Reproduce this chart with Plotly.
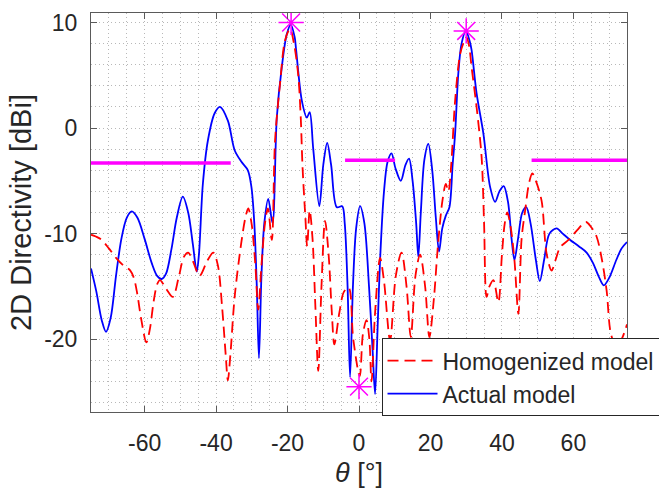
import plotly.graph_objects as go

# Actual model (blue, solid)
actual_theta = [-75, -73.5, -72, -70.8, -69.5, -68, -66.5, -65, -63.6, -62, -60, -58, -56.5, -55.2, -54,
                -52.5, -51, -49.3, -47.8, -46.5, -45.4, -44.8, -43.7, -42.3, -40.4, -38.9, -36.7, -34.8,
                -32.9, -31.1, -30.1, -29.3, -28.6, -28.0, -27.3, -26.5, -25.4, -24.2, -23.0, -21.6, -20.2,
                -19.1, -18.0, -17.6, -16.0, -14.6, -13.8, -12.8, -11.1, -10.0, -8.9, -7.8, -6.2, -4.7,
                -4.0, -3.2, -2.5, -1.7, -0.8, 0.3, 1.5, 2.8, 3.8, 4.5, 5.2, 5.9, 7.0, 8.0, 9.1, 10.2,
                11.7, 13.0, 14.0, 15.0, 16.0, 16.6, 17.3, 18.3, 19.4, 20.5, 21.5, 22.4, 23.3, 24.3, 25.3,
                26.2, 26.9, 27.8, 28.7, 29.9, 31.0, 31.5, 32.9, 34.8, 36.7, 38.1, 39.3, 40.5, 41.7, 42.7,
                43.5, 44.5, 45.7, 46.8, 48.0, 49.5, 50.6, 51.8, 53.3, 55.3, 57.0, 59.1, 61.5, 63.7, 65.5,
                67.0, 68.5, 70.0, 72.0, 73.5, 75.0]
actual_dbi = [-13.3, -15.5, -18.2, -19.3, -18.0, -14.0, -10.5, -8.5, -7.9, -8.5, -10.5, -12.8, -14.0, -14.3,
              -13.8, -11.5, -8.5, -6.5, -8.0, -11.0, -13.6, -12.0, -5.3, -1.2, 1.4, 2.0, 0.7, -2.1, -3.2,
              -4.0, -5.6, -9.0, -15.0, -21.8, -14.0, -9.0, -6.7, -9.0, 1.0, 5.8, 8.9, 9.8, 8.6, 7.4, 2.6,
              1.0, 1.5, -2.0, -7.4, -3.5, -1.4, -3.5, -7.5, -7.4, -9.0, -15.0, -23.6, -15.0, -9.5, -7.4,
              -9.0, -15.0, -21.0, -25.2, -19.0, -12.5, -6.0, -3.2, -2.4, -3.8, -5.0, -3.5, -2.9, -5.0,
              -9.0, -12.2, -8.0, -3.0, -1.5, -4.0, -8.5, -11.7, -9.5, -8.3, -7.5, -3.5, -0.5, 5.2, 8.0,
              9.2, 8.2, 7.4, 3.3, -0.5, -5.6, -7.0, -6.0, -5.5, -7.0, -10.5, -12.5, -10.5, -8.0, -7.5,
              -9.0, -12.5, -14.5, -12.5, -10.0, -9.5, -10.0, -10.6, -11.2, -11.8, -12.8, -14.0, -14.9,
              -14.2, -12.5, -11.4, -10.8]

# Homogenized model (red, dashed)
homog_theta = [-75, -73.5, -72, -70, -68, -66, -64, -63, -62, -61, -59.5, -58.5, -57.5, -56.5, -55.7, -54,
               -52.1, -50.5, -49, -47.8, -46.5, -44.6, -42.5, -40.8, -39.5, -38.3, -37.3, -36.7, -36,
               -34.8, -33, -31.8, -31.0, -30, -29, -28.2, -27.3, -26.3, -25.5, -24.4, -23.5, -22.1, -20.7,
               -19.3, -18.2, -17.0, -16.3, -15.8, -15.0, -14.5, -13.8, -13.0, -12.2, -11.4, -10.5, -9.5,
               -8.5, -7.6, -6.9, -5.5, -4.2, -2.9, -1.6, 0.2, 1.1, 2.1, 2.9, 3.5, 4.5, 5.9, 7.0, 8.7,
               10.3, 11.9, 13.3, 14.5, 15.8, 17.1, 18.5, 19.7, 21.0, 22.0, 23.3, 24.3, 25.0, 25.8, 26.9,
               28.3, 29.4, 30.1, 30.8, 31.5, 32.9, 34.3, 35.0, 35.7, 36.5, 37.6, 39.0, 40.0, 40.8, 41.5,
               42.5, 43.5, 44.6, 45.5, 46.5, 47.6, 48.5, 49.5, 51.1, 52.5, 53.9, 55.0, 56.3, 58.6, 61.0,
               63.5, 65.0, 66.5, 68.0, 69.3, 70.5, 72.0, 73.5, 75.0]
homog_dbi = [-10.1, -10.3, -10.6, -11.4, -12.3, -13.0, -13.5, -14.2, -15.8, -18.0, -20.3, -19.0, -16.5,
             -14.8, -14.4, -15.2, -16.0, -14.2, -12.2, -11.8, -12.6, -14.0, -12.6, -11.8, -13.0, -17.0,
             -21.5, -23.9, -21.5, -16.0, -11.0, -8.5, -7.6, -9.2, -13.0, -17.2, -13.0, -9.0, -7.6, -10.6,
             -1.2, 4.2, 8.3, 9.4, 8.0, 5.0, 1.0, -3.7, -8.5, -11.2, -7.8, -10.5, -17.0, -23.0, -15.0,
             -8.8, -12.0, -17.5, -20.5, -17.5, -15.5, -15.1, -20.0, -23.5, -19.5, -18.2, -20.0, -24.0,
             -17.5, -12.3, -14.5, -20.1, -14.0, -11.8, -15.0, -19.8, -14.0, -12.0, -15.0, -19.8, -16.0,
             -11.5, -7.0, -5.3, -6.0, -3.5, 2.6, 7.0, 8.2, 8.6, 7.8, 5.8, 2.0, -2.7, -9.0, -16.0, -15.0,
             -14.4, -16.5, -12.0, -9.0, -8.0, -9.5, -12.5, -17.6, -10.5, -7.8, -5.2, -4.3, -5.0, -6.9,
             -11.9, -13.5, -12.5, -11.3, -10.6, -9.7, -8.9, -9.4, -10.3, -12.5, -15.4, -19.5, -20.7,
             -20.0, -18.6]

# Markers (peaks / null) and sidelobe level segments
star_theta = [-19.0, 30.0, 0.0]
star_dbi = [10.0, 9.2, -24.5]
sll_segments = [([-75, -35.9], -3.3), ([-3.9, 10.1], -3.05), ([48.3, 75], -3.05)]

x_ticks = [-60, -40, -20, 0, 20, 40, 60]
x_ticktext = ["-60", "-40", "-20", "0", "20", "40", "60"]
y_ticks = [-20, -10, 0, 10]
y_ticktext = ["-20", "-10", "0", "10"]

FONT = "Liberation Sans, Arial, sans-serif"
GRID = "#b8b8b8"
AXC = "#5a5a5a"

fig = go.Figure()
fig.add_trace(go.Scatter(x=actual_theta, y=actual_dbi, mode="lines", name="Actual model",
                         line=dict(color="#0000ff", width=1.8, shape="spline", smoothing=0.9),
                         legendrank=2))
fig.add_trace(go.Scatter(x=homog_theta, y=homog_dbi, mode="lines", name="Homogenized model",
                         line=dict(color="#ff0000", width=1.8, dash="11px,6px", shape="spline", smoothing=0.9),
                         legendrank=1))
for xs, lvl in sll_segments:
    fig.add_trace(go.Scatter(x=xs, y=[lvl, lvl], mode="lines", showlegend=False,
                             line=dict(color="#ff00ff", width=3.5)))
fig.add_trace(go.Scatter(x=star_theta, y=star_dbi, mode="markers", showlegend=False,
                         marker=dict(symbol="asterisk-open", size=21, color="#ff00ff",
                                     line=dict(color="#ff00ff", width=1.5))))

axis_common = dict(showline=True, linecolor=AXC, linewidth=1, mirror="ticks", ticks="inside",
                   ticklen=6, tickcolor=AXC, showgrid=True, gridcolor=GRID, griddash="1px,3px",
                   gridwidth=1, zeroline=False, tickfont=dict(family=FONT, size=23, color="#262626"))

fig.update_xaxes(range=[-75, 75], tickvals=x_ticks, ticktext=x_ticktext, ticklabelstandoff=10,
                 minor=dict(dtick=5, tick0=0, showgrid=True, gridcolor=GRID, griddash="1px,3px", ticklen=0),
                 title=dict(text="<i>θ</i> [°]", font=dict(family=FONT, size=27, color="#262626"), standoff=8),
                 **axis_common)
fig.update_yaxes(range=[-26.9, 10.9], tickvals=y_ticks, ticktext=y_ticktext, ticklabelstandoff=8,
                 minor=dict(dtick=2, tick0=0, showgrid=True, gridcolor=GRID, griddash="1px,3px", ticklen=0),
                 title=dict(text="2D Directivity [dBi]", font=dict(family=FONT, size=29, color="#262626"), standoff=4),
                 **axis_common)

fig.update_layout(width=659, height=491, margin=dict(l=91, r=32, t=13, b=79, autoexpand=False),
                  paper_bgcolor="white", plot_bgcolor="white", font=dict(family=FONT),
                  legend=dict(x=0.542, y=0.185, xanchor="left", yanchor="top", bgcolor="white",
                              bordercolor="#262626", borderwidth=1,
                              font=dict(family=FONT, size=23, color="#262626"),
                              tracegroupgap=0, itemwidth=50))

fig.write_html("out.html")
